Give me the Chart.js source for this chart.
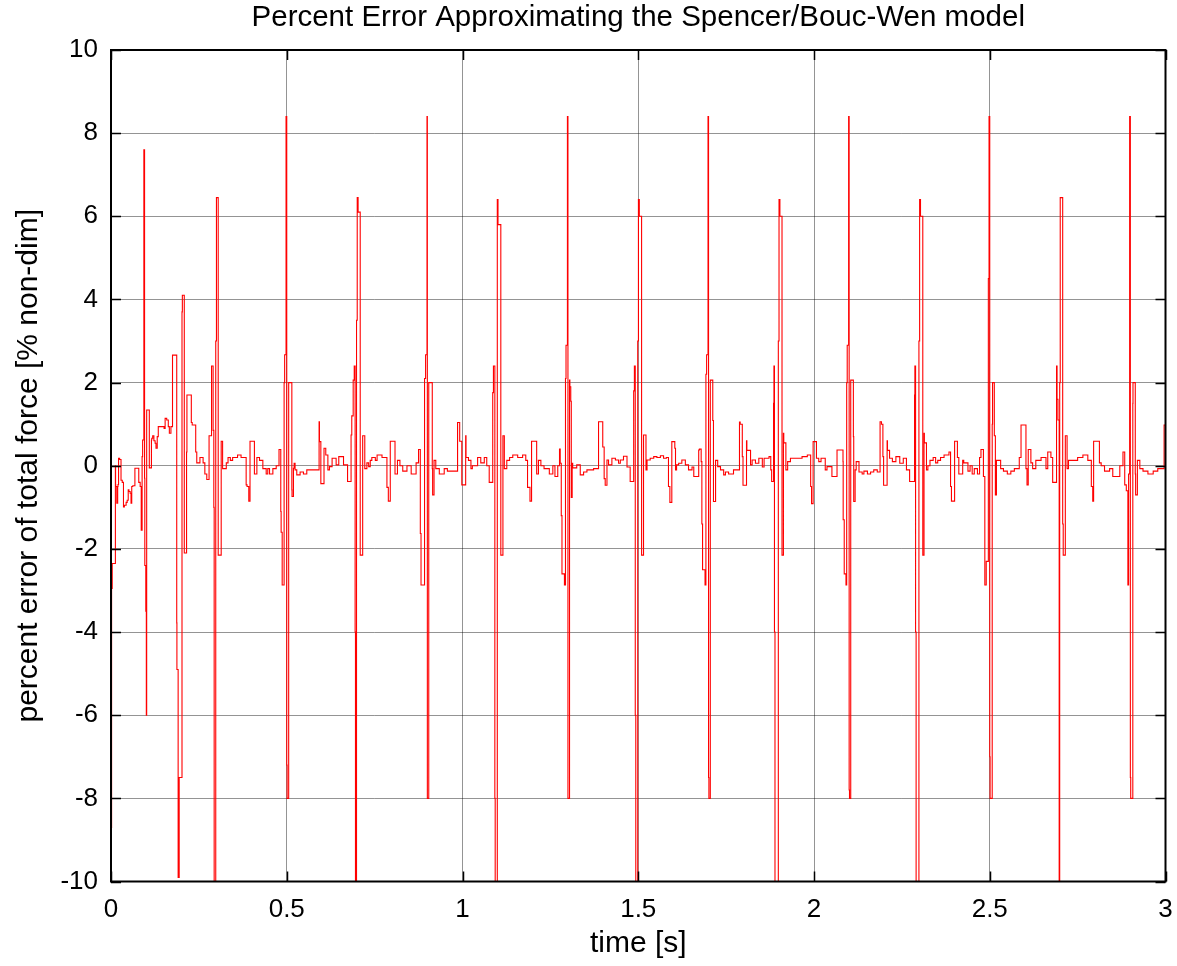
<!DOCTYPE html>
<html>
<head>
<meta charset="utf-8">
<title>Percent Error Approximating the Spencer/Bouc-Wen model</title>
<script src="https://cdn.jsdelivr.net/npm/chart.js@4.4.1/dist/chart.umd.min.js"></script>
<style>
  html, body { margin: 0; padding: 0; background: #ffffff; }
  #wrap { width: 1177px; height: 966px; position: relative; }
</style>
</head>
<body>
<div id="wrap"><canvas id="chart" width="1177" height="966"></canvas></div>
<script>
// ---- labels ----
const chartTitle = 'Percent Error Approximating the Spencer/Bouc-Wen model';
const xAxisLabel = 'time [s]';
const yAxisLabel = 'percent error of total force [% non-dim]';
const xTicks = [0, 0.5, 1, 1.5, 2, 2.5, 3];
const xTickLabels = ['0', '0.5', '1', '1.5', '2', '2.5', '3'];
const yTicks = [-10, -8, -6, -4, -2, 0, 2, 4, 6, 8, 10];
const yTickLabels = ['-10', '-8', '-6', '-4', '-2', '0', '2', '4', '6', '8', '10'];

// ---- error trace: [time s, percent error], each value held until the next sample ----
// start-up transient, 0 - 0.33 s
const startup = [
  [0.000, 10.0], [0.0017, -8.7], [0.0035, -2.95], [0.0125, -2.35], [0.0130, 0.0], [0.0135, -0.45],
  [0.0165, -0.5], [0.0190, -0.9], [0.0200, -0.5], [0.0215, -0.45], [0.0245, 0.18], [0.0285, 0.15],
  [0.0320, -0.35], [0.0355, -0.4], [0.0380, -0.99], [0.0430, -0.95], [0.0460, -0.88], [0.0490, -0.83],
  [0.0510, -0.58], [0.0545, -0.62], [0.0570, -0.66], [0.0590, -0.9], [0.0620, -0.5], [0.0680, -0.48],
  [0.0720, -0.06], [0.0790, -0.06], [0.0830, -0.4], [0.0860, -0.5], [0.0885, -1.55], [0.0900, 0.22],
  [0.0935, 0.62], [0.0955, 7.6], [0.0962, -0.3], [0.0990, -2.4], [0.1005, -3.5], [0.1015, -6.0],
  [0.1025, 1.34], [0.1090, 1.34], [0.1095, -0.05], [0.1150, -0.05], [0.1160, 0.62], [0.1186, 0.66],
  [0.1220, 0.72], [0.1255, 0.6], [0.1280, 0.54], [0.1315, 0.42], [0.1345, 0.7], [0.1395, 0.94],
  [0.1510, 0.94], [0.1540, 0.9], [0.1585, 1.14], [0.1630, 1.1], [0.1660, 0.94], [0.1705, 0.78],
  [0.1750, 0.94], [0.1765, 2.66], [0.1870, 2.66], [0.1875, -3.78], [0.1910, -4.9], [0.1940, -9.9],
  [0.2020, -7.5], [0.2030, 3.7], [0.2085, 4.1], [0.2095, -2.1], [0.2150, -2.1], [0.2160, 0.33],
  [0.2200, 1.7], [0.2285, 1.7], [0.2310, 1.04], [0.2410, 0.98], [0.2440, 0.33], [0.2530, 0.07],
  [0.2620, 0.2], [0.2670, 0.07], [0.2725, -0.2], [0.2790, -0.33], [0.2860, 0.72], [0.2905, 2.4],
  [0.2925, 0.85], [0.2935, -1.0], [0.2980, -10.5], [0.3000, 3.0], [0.3050, 6.45], [0.3060, -2.15],
  [0.3135, -2.15], [0.3145, 0.59], [0.3175, 0.59], [0.3220, -0.07], [0.3280, -0.07]
];

// 0.33 - 0.73 s
const cycle1 = [
  [0.3330, 0.07], [0.3395, 0.2], [0.3460, 0.13], [0.3600, 0.2], [0.3700, 0.26], [0.3780, 0.2],
  [0.3845, 0.2], [0.3870, -0.46], [0.3920, -0.5], [0.3955, -0.85], [0.3965, 0.59], [0.4080, 0.59],
  [0.4090, -0.2], [0.4150, -0.2], [0.4225, 0.2], [0.4320, 0.13], [0.4415, -0.07], [0.4460, -0.2],
  [0.4510, -0.07], [0.4605, -0.2], [0.4700, -0.07], [0.4780, 0.0], [0.4795, 0.39], [0.4830, 0.39],
  [0.4840, -1.1], [0.4870, -1.6], [0.4925, -2.87], [0.4940, 2.0], [0.4980, 2.67], [0.5000, 8.4],
  [0.5010, -7.2], [0.5055, -8.0], [0.5070, 2.0], [0.5145, 2.0], [0.5150, -0.58], [0.5190, -0.74],
  [0.5210, -0.06], [0.5237, 0.06], [0.5285, -0.1], [0.5380, -0.22], [0.5475, -0.15], [0.5570, -0.2],
  [0.5710, -0.1], [0.5800, -0.1], [0.5920, -0.1], [0.5930, 1.06], [0.5970, 0.58], [0.6005, -0.43],
  [0.6060, -0.43], [0.6110, 0.42], [0.6170, 0.26], [0.6215, -0.1], [0.6290, -0.02], [0.6405, 0.18],
  [0.6480, 0.02], [0.6615, 0.22], [0.6730, 0.02], [0.6760, -0.38], [0.6830, -0.38], [0.6850, 0.74],
  [0.6890, 1.2], [0.6920, 2.06], [0.6945, 2.4], [0.6955, -4.0], [0.6985, -10.5], [0.7005, 3.5],
  [0.7030, 6.45], [0.7090, 6.1], [0.7100, -2.15], [0.7160, -2.15], [0.7170, 0.72], [0.7220, 0.72],
  [0.7230, -0.07]
];

// 0.73 - 1.13 s
const cycle2 = [
  [0.7280, -0.07], [0.7330, 0.07], [0.7375, -0.02], [0.7420, 0.13], [0.7520, 0.2], [0.7570, 0.13],
  [0.7710, 0.26], [0.7850, 0.2], [0.7890, -0.52], [0.7945, -0.85], [0.7960, 0.59], [0.8080, 0.59],
  [0.8085, -0.2], [0.8150, -0.2], [0.8220, 0.13], [0.8300, 0.0], [0.8420, -0.13], [0.8540, 0.0],
  [0.8680, -0.2], [0.8750, 0.07], [0.8800, 0.39], [0.8820, -1.63], [0.8920, -2.87], [0.8950, 2.1],
  [0.8990, 2.67], [0.9000, 8.4], [0.9010, -8.0], [0.9040, -8.0], [0.9050, 2.0], [0.9140, 2.0],
  [0.9150, -0.07], [0.9190, -0.7], [0.9240, 0.13], [0.9340, -0.07], [0.9480, -0.2], [0.9570, -0.07],
  [0.9720, -0.13], [0.9860, -0.13], [0.9920, 1.04], [0.9980, 0.59], [0.9990, -0.46], [1.0090, -0.46],
  [1.0100, 0.72], [1.0170, 0.2], [1.0240, 0.13], [1.0280, -0.07], [1.0430, 0.0], [1.0520, 0.2],
  [1.0620, 0.07], [1.0690, 0.2], [1.0760, 0.0], [1.0810, -0.4], [1.0860, -0.4], [1.0880, 1.76],
  [1.0920, 2.4], [1.0930, -8.0], [1.0990, -10.5], [1.1010, 6.4], [1.1090, 5.8], [1.1095, -2.15],
  [1.1150, -2.15], [1.1160, 0.72], [1.1190, 0.72], [1.1260, -0.07]
];

// 1.13 - 1.53 s
const cycle3 = [
  [1.1340, 0.13], [1.1430, 0.2], [1.1570, 0.26], [1.1710, 0.2], [1.1800, 0.26], [1.1850, 0.13],
  [1.1920, -0.52], [1.1965, -0.85], [1.1975, 0.59], [1.2110, 0.59], [1.2120, -0.2], [1.2160, -0.2],
  [1.2230, 0.13], [1.2320, 0.0], [1.2470, -0.07], [1.2570, -0.2], [1.2630, 0.0], [1.2710, -0.26],
  [1.2760, 0.0], [1.2780, 0.4], [1.2810, 0.06], [1.2830, -1.2], [1.2900, -2.6], [1.2930, -2.87],
  [1.2945, 2.1], [1.2985, 2.9], [1.3000, 8.4], [1.3010, -8.0], [1.3045, -8.0], [1.3055, 2.06],
  [1.3080, 1.9], [1.3095, 1.55], [1.3120, -0.76], [1.3135, 0.06], [1.3250, -0.05], [1.3350, 0.02],
  [1.3445, -0.22], [1.3540, -0.15], [1.3635, -0.1], [1.3730, -0.1], [1.3870, -0.07], [1.3930, 1.06],
  [1.3990, 1.06], [1.4030, 0.45], [1.4060, -0.31], [1.4110, -0.47], [1.4155, 0.14], [1.4250, 0.02],
  [1.4350, 0.18], [1.4440, 0.14], [1.4490, 0.06], [1.4580, 0.14], [1.4680, 0.23], [1.4770, -0.03],
  [1.4820, -0.38], [1.4870, -0.38], [1.4890, 1.8], [1.4915, 2.4], [1.4930, -6.0], [1.4985, -10.5],
  [1.5005, 3.0], [1.5030, 6.4], [1.5095, 6.0], [1.5100, -2.15], [1.5150, -2.15], [1.5160, 0.74],
  [1.5220, 0.74], [1.5250, -0.1]
];

// 1.53 - 1.93 s
const cycle4 = [
  [1.5340, 0.14], [1.5440, 0.18], [1.5530, 0.22], [1.5630, 0.2], [1.5720, 0.24], [1.5800, 0.18],
  [1.5860, 0.2], [1.5900, -0.5], [1.5955, -0.88], [1.5965, 0.58], [1.6040, 0.58], [1.6060, 0.42],
  [1.6090, -0.1], [1.6150, 0.02], [1.6240, 0.06], [1.6340, 0.14], [1.6430, 0.02], [1.6530, -0.1],
  [1.6580, -0.03], [1.6640, -0.26], [1.6720, -0.26], [1.6740, 0.38], [1.6790, 0.4], [1.6810, 0.1],
  [1.6830, -1.4], [1.6900, -2.5], [1.6925, -2.87], [1.6945, 2.2], [1.6985, 2.67], [1.7000, 8.4],
  [1.7010, -7.5], [1.7050, -8.0], [1.7065, 2.06], [1.7120, 2.06], [1.7140, 1.09], [1.7150, -0.86],
  [1.7200, -0.86], [1.7260, 0.13], [1.7340, -0.02], [1.7430, -0.1], [1.7480, -0.22], [1.7570, -0.15],
  [1.7710, -0.2], [1.7830, -0.1], [1.7880, -0.1], [1.7900, 1.05], [1.7960, 1.0], [1.7980, 0.22],
  [1.8000, -0.47], [1.8080, -0.47], [1.8090, 0.6], [1.8195, 0.37], [1.8240, 0.02], [1.8335, 0.14],
  [1.8430, 0.06], [1.8530, 0.18], [1.8580, -0.03], [1.8720, 0.18], [1.8770, 0.22], [1.8795, -0.1],
  [1.8810, -0.38], [1.8850, -0.38], [1.8860, 1.5], [1.8875, 2.4], [1.8890, -4.0], [1.8985, -10.5],
  [1.9005, 3.0], [1.9030, 6.4], [1.9090, 6.0], [1.9100, -2.15], [1.9130, -2.15], [1.9140, 0.78],
  [1.9200, 0.55], [1.9250, -0.1]
];

// 1.93 - 2.33 s
const cycle5 = [
  [1.9330, 0.1], [1.9520, 0.18], [1.9660, 0.18], [1.9810, 0.22], [1.9905, 0.26], [1.9930, -0.5],
  [1.9975, -0.91], [1.9985, 0.58], [2.0070, 0.58], [2.0080, 0.18], [2.0135, 0.18], [2.0200, 0.1],
  [2.0320, 0.18], [2.0370, -0.1], [2.0510, -0.02], [2.0580, -0.26], [2.0655, -0.26], [2.0660, 0.38],
  [2.0825, 0.38], [2.0830, 0.1], [2.0860, -1.3], [2.0910, -2.6], [2.0930, -2.87], [2.0945, 2.0],
  [2.0985, 2.9], [2.1000, 8.4], [2.1010, -7.8], [2.1045, -8.0], [2.1060, 2.06], [2.1120, 2.06],
  [2.1130, 0.7], [2.1140, -0.86], [2.1170, -0.86], [2.1200, -0.1], [2.1280, 0.1], [2.1370, -0.15],
  [2.1420, -0.2], [2.1520, -0.13], [2.1610, -0.2], [2.1700, -0.15], [2.1800, -0.1], [2.1880, -0.15],
  [2.1920, 1.06], [2.1960, 1.0], [2.1980, 0.22], [2.1990, -0.47], [2.2080, -0.47], [2.2090, 0.6],
  [2.2150, 0.37], [2.2230, 0.18], [2.2330, 0.1], [2.2440, 0.22], [2.2540, 0.06], [2.2630, 0.18],
  [2.2720, -0.1], [2.2790, -0.38], [2.2860, -0.38], [2.2870, 1.7], [2.2890, 2.4], [2.2905, -4.0],
  [2.2985, -10.5], [2.3005, 3.0], [2.3030, 6.4], [2.3095, 6.0], [2.3100, -2.15], [2.3130, -2.15],
  [2.3140, 0.78], [2.3200, 0.55], [2.3240, -0.1]
];

// 2.33 - 2.73 s
const cycle6 = [
  [2.3300, 0.0], [2.3390, 0.13], [2.3460, 0.2], [2.3520, 0.07], [2.3600, 0.13], [2.3700, 0.2],
  [2.3840, 0.26], [2.3885, 0.33], [2.3910, -0.5], [2.3940, -0.85], [2.4000, -0.85], [2.4010, 0.59],
  [2.4080, 0.59], [2.4120, 0.2], [2.4170, -0.2], [2.4230, -0.2], [2.4260, 0.13], [2.4380, 0.07],
  [2.4440, -0.13], [2.4500, 0.0], [2.4560, -0.2], [2.4650, -0.07], [2.4710, -0.2], [2.4750, 0.2],
  [2.4820, 0.39], [2.4860, -0.26], [2.4900, -2.87], [2.4960, -2.3], [2.4980, 4.5], [2.5000, 8.4],
  [2.5010, -7.0], [2.5040, -8.0], [2.5070, -8.0], [2.5080, 1.0], [2.5130, 2.0], [2.5160, 0.72],
  [2.5190, -0.7], [2.5220, 0.13], [2.5310, 0.13], [2.5390, -0.07], [2.5500, -0.13], [2.5600, -0.2],
  [2.5700, -0.13], [2.5840, -0.07], [2.5890, 0.2], [2.5960, 0.98], [2.6030, 0.98], [2.6060, -0.07],
  [2.6095, -0.46], [2.6170, 0.39], [2.6220, 0.07], [2.6310, -0.07], [2.6460, 0.13], [2.6600, 0.2],
  [2.6650, -0.07], [2.6740, 0.33], [2.6790, 0.2], [2.6860, -0.4], [2.6900, -0.4], [2.6915, 2.4],
  [2.6940, 1.6], [2.6975, 1.1], [2.6990, -10.5], [2.7005, 2.0], [2.7075, 6.45], [2.7090, -1.4],
  [2.7150, -2.15], [2.7160, 0.72], [2.7200, 0.72], [2.7240, -0.07]
];

// 2.73 - 3.0 s
const cycle7 = [
  [2.7310, 0.13], [2.7500, 0.13], [2.7650, 0.2], [2.7790, 0.26], [2.7890, 0.13], [2.7930, -0.5],
  [2.7955, -0.85], [2.7970, 0.59], [2.8120, 0.59], [2.8170, 0.07], [2.8265, 0.0], [2.8410, -0.13],
  [2.8500, -0.07], [2.8700, -0.26], [2.8790, 0.0], [2.8840, 0.33], [2.8885, -0.46], [2.8930, -0.6],
  [2.8950, -2.87], [2.8980, -0.2], [2.9000, 8.4], [2.9010, -7.5], [2.9070, -8.0], [2.9075, 1.5],
  [2.9140, 2.0], [2.9150, -0.2], [2.9200, -0.7], [2.9270, 0.13], [2.9360, -0.07], [2.9500, -0.13],
  [2.9650, -0.2], [2.9780, -0.13], [2.9890, -0.07], [2.9960, -0.07], [2.9975, 0.98], [3.0000, 0.98]
];

// ---- drawing ----
const FONT = "'Liberation Sans', Arial, Helvetica, sans-serif";

const trace = [].concat(startup, cycle1, cycle2, cycle3, cycle4, cycle5, cycle6, cycle7)
  .map(([t, v]) => ({ x: t, y: v }));

// Title centred over the plot box, box frame and inward tick marks on all four sides
const framePlugin = {
  id: 'frame',
  afterDraw(chart) {
    const { ctx, chartArea: a, scales: { x, y } } = chart;
    const len = 10;
    ctx.save();
    ctx.strokeStyle = '#000000';
    ctx.lineWidth = 1.5;
    ctx.beginPath();
    xTicks.forEach(v => {
      const px = Math.round(x.getPixelForValue(v)) + 0.5;
      ctx.moveTo(px, a.bottom); ctx.lineTo(px, a.bottom - len);
      ctx.moveTo(px, a.top); ctx.lineTo(px, a.top + len);
    });
    yTicks.forEach(v => {
      const py = Math.round(y.getPixelForValue(v)) + 0.5;
      ctx.moveTo(a.left, py); ctx.lineTo(a.left + len, py);
      ctx.moveTo(a.right, py); ctx.lineTo(a.right - len, py);
    });
    ctx.stroke();
    ctx.lineWidth = 2;
    ctx.strokeRect(a.left, a.top, a.right - a.left, a.bottom - a.top);

    ctx.fillStyle = '#000000';
    ctx.font = `29.5px ${FONT}`;
    ctx.textAlign = 'center';
    ctx.textBaseline = 'middle';
    ctx.fillText(chartTitle, (a.left + a.right) / 2, 18);
    ctx.restore();
  }
};

new Chart(document.getElementById('chart'), {
  type: 'line',
  data: {
    datasets: [{
      data: trace,
      borderColor: '#ff0000',
      borderWidth: 1.1,
      pointRadius: 0,
      stepped: 'after',
      fill: false
    }]
  },
  options: {
    responsive: false,
    animation: false,
    events: [],
    layout: { padding: { left: 0, right: 11.5, top: 50, bottom: 0 } },
    plugins: {
      legend: { display: false },
      tooltip: { enabled: false },
      title: { display: false }
    },
    scales: {
      x: {
        type: 'linear',
        min: 0,
        max: 3,
        afterBuildTicks: s => { s.ticks = xTicks.map(v => ({ value: v })); },
        afterFit: s => { s.height = 84.5; s.paddingLeft = 0; s.paddingRight = 0; },
        ticks: {
          color: '#000000',
          font: { family: FONT, size: 26 },
          padding: 13,
          maxRotation: 0,
          autoSkip: false,
          callback: v => xTickLabels[xTicks.indexOf(v)]
        },
        grid: { color: 'rgba(0,0,0,0.42)', lineWidth: 1, drawTicks: false },
        border: { display: false },
        title: {
          display: true,
          text: xAxisLabel,
          color: '#000000',
          font: { family: FONT, size: 30 },
          padding: { top: 0, bottom: 4 }
        }
      },
      y: {
        type: 'linear',
        min: -10,
        max: 10,
        afterBuildTicks: s => { s.ticks = yTicks.map(v => ({ value: v })); },
        afterFit: s => { s.width = 111; s.paddingTop = 0; s.paddingBottom = 0; },
        ticks: {
          color: '#000000',
          font: { family: FONT, size: 26 },
          padding: 13,
          autoSkip: false,
          callback: v => yTickLabels[yTicks.indexOf(v)]
        },
        grid: { color: 'rgba(0,0,0,0.42)', lineWidth: 1, drawTicks: false },
        border: { display: false },
        title: {
          display: true,
          text: yAxisLabel,
          color: '#000000',
          font: { family: FONT, size: 30 },
          padding: { top: 11, bottom: 0 }
        }
      }
    }
  },
  plugins: [framePlugin]
});
</script>
</body>
</html>
